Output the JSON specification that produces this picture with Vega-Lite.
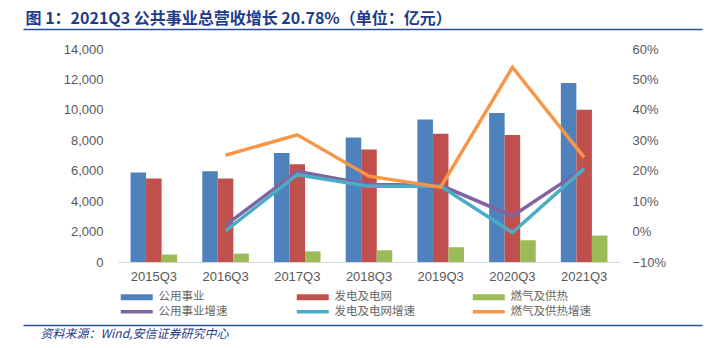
{
  "$schema": "https://vega.github.io/schema/vega-lite/v6.json",
  "width": 502,
  "height": 213,
  "autosize": {"type": "none"},
  "padding": {"left": 118, "top": 49, "right": 99, "bottom": 86},
  "background": "white",
  "config": {"view": {"stroke": null}, "font": "Liberation Sans"},
  "datasets": {
    "revenue": [
      {"period": "2015Q3", "series": "公用事业", "value": 5880},
      {"period": "2015Q3", "series": "发电及电网", "value": 5490},
      {"period": "2015Q3", "series": "燃气及供热", "value": 490},
      {"period": "2016Q3", "series": "公用事业", "value": 5970},
      {"period": "2016Q3", "series": "发电及电网", "value": 5490},
      {"period": "2016Q3", "series": "燃气及供热", "value": 550},
      {"period": "2017Q3", "series": "公用事业", "value": 7160},
      {"period": "2017Q3", "series": "发电及电网", "value": 6430},
      {"period": "2017Q3", "series": "燃气及供热", "value": 700},
      {"period": "2018Q3", "series": "公用事业", "value": 8190},
      {"period": "2018Q3", "series": "发电及电网", "value": 7400},
      {"period": "2018Q3", "series": "燃气及供热", "value": 770},
      {"period": "2019Q3", "series": "公用事业", "value": 9370},
      {"period": "2019Q3", "series": "发电及电网", "value": 8430},
      {"period": "2019Q3", "series": "燃气及供热", "value": 970},
      {"period": "2020Q3", "series": "公用事业", "value": 9790},
      {"period": "2020Q3", "series": "发电及电网", "value": 8340},
      {"period": "2020Q3", "series": "燃气及供热", "value": 1430},
      {"period": "2021Q3", "series": "公用事业", "value": 11760},
      {"period": "2021Q3", "series": "发电及电网", "value": 10000},
      {"period": "2021Q3", "series": "燃气及供热", "value": 1740}
    ],
    "growth": [
      {"period": "2016Q3", "series": "公用事业增速", "rate": 0.021},
      {"period": "2017Q3", "series": "公用事业增速", "rate": 0.198},
      {"period": "2018Q3", "series": "公用事业增速", "rate": 0.155},
      {"period": "2019Q3", "series": "公用事业增速", "rate": 0.152},
      {"period": "2020Q3", "series": "公用事业增速", "rate": 0.051},
      {"period": "2021Q3", "series": "公用事业增速", "rate": 0.2078},
      {"period": "2016Q3", "series": "发电及电网增速", "rate": 0.002},
      {"period": "2017Q3", "series": "发电及电网增速", "rate": 0.187},
      {"period": "2018Q3", "series": "发电及电网增速", "rate": 0.149},
      {"period": "2019Q3", "series": "发电及电网增速", "rate": 0.149},
      {"period": "2020Q3", "series": "发电及电网增速", "rate": -0.003},
      {"period": "2021Q3", "series": "发电及电网增速", "rate": 0.207},
      {"period": "2016Q3", "series": "燃气及供热增速", "rate": 0.251},
      {"period": "2017Q3", "series": "燃气及供热增速", "rate": 0.318},
      {"period": "2018Q3", "series": "燃气及供热增速", "rate": 0.182},
      {"period": "2019Q3", "series": "燃气及供热增速", "rate": 0.146},
      {"period": "2020Q3", "series": "燃气及供热增速", "rate": 0.54},
      {"period": "2021Q3", "series": "燃气及供热增速", "rate": 0.244}
    ]
  },
  "layer": [
    {
      "layer": [
        {
          "data": {"name": "revenue"},
          "mark": {"type": "bar"},
          "encoding": {
            "x": {
              "field": "period", "type": "nominal",
              "scale": {"paddingInner": 0.35, "paddingOuter": 0.175},
              "axis": {"title": null, "domainColor": "#D9D9D9", "domainWidth": 1, "ticks": false, "labelColor": "#595959", "labelFontSize": 13, "labelPadding": 8, "labelAngle": 0}
            },
            "xOffset": {
              "field": "series", "type": "nominal",
              "scale": {"domain": ["公用事业", "发电及电网", "燃气及供热"], "paddingInner": 0}
            },
            "y": {
              "field": "value", "type": "quantitative",
              "scale": {"domain": [0, 14000], "nice": false},
              "axis": {"title": null, "domain": false, "ticks": false, "grid": false, "values": [0, 2000, 4000, 6000, 8000, 10000, 12000, 14000], "format": ",.0f", "labelPadding": 15, "labelColor": "#595959", "labelFontSize": 13}
            },
            "color": {
              "field": "series", "type": "nominal",
              "scale": {
                "domain": ["公用事业", "发电及电网", "燃气及供热", "公用事业增速", "发电及电网增速", "燃气及供热增速"],
                "range": ["#4F81BD", "#C0504D", "#9BBB59", "#8064A2", "#4BACC6", "#F79646"]
              },
              "legend": {
                "title": null, "orient": "none", "legendX": 13, "legendY": 242,
                "columns": 3, "direction": "horizontal", "gridAlign": "all",
                "columnPadding": 57, "rowPadding": 2, "padding": 0,
                "symbolType": "M-3.2,-0.6H3.2V0.6H-3.2Z", "symbolSize": 100, "symbolStrokeWidth": 0,
                "labelFont": "Noto Sans CJK SC", "labelFontSize": 11.5, "labelColor": "#666666", "labelOffset": 16, "labelLimit": 200,
                "encode": {
                  "symbols": {
                    "update": {
                      "shape": {"signal": "indexof(datum.value, '增速') >= 0 ? 'M-3.2,-0.35H3.2V0.35H-3.2Z' : 'M-3.2,-0.6H3.2V0.6H-3.2Z'"},
                      "fill": {"scale": "color", "field": "value"},
                      "strokeWidth": {"value": 0}
                    }
                  }
                }
              }
            }
          }
        },
        {
          "data": {"name": "growth"},
          "mark": {"type": "line", "strokeWidth": 3.5},
          "encoding": {
            "x": {"field": "period", "type": "nominal"},
            "y": {
              "field": "rate", "type": "quantitative",
              "scale": {"domain": [-0.1, 0.6], "nice": false},
              "axis": {"orient": "right", "title": null, "domain": false, "ticks": false, "grid": false, "values": [-0.1, 0, 0.1, 0.2, 0.3, 0.4, 0.5, 0.6], "format": ".0%", "labelPadding": 12, "labelColor": "#595959", "labelFontSize": 13}
            },
            "color": {"field": "series", "type": "nominal"}
          }
        }
      ],
      "resolve": {"scale": {"y": "independent"}}
    },
    {
      "data": {"name": "revenue"},
      "mark": {"type": "point", "opacity": 0, "size": 0},
      "encoding": {
        "x": {
          "field": "period", "type": "nominal",
          "scale": {"type": "point", "range": [-95, 584]},
          "axis": {
            "orient": "top", "offset": 20, "labels": false, "ticks": false, "grid": false,
            "domainColor": "#2B4C9B", "domainWidth": 1.5,
            "title": "图 1：2021Q3 公共事业总营收增长 20.78%（单位：亿元）",
            "titleFont": "Noto Sans CJK SC", "titleFontSize": 16, "titleFontWeight": "bold", "titleColor": "#1F3C88",
            "titleAlign": "left", "titleX": -93, "titlePadding": 3
          }
        }
      }
    },
    {
      "data": {"name": "revenue"},
      "mark": {"type": "point", "opacity": 0, "size": 0},
      "encoding": {
        "x": {
          "field": "period", "type": "nominal",
          "scale": {"type": "point", "range": [-95, 584]},
          "axis": {
            "orient": "bottom", "offset": 63, "labels": false, "ticks": false, "grid": false,
            "domainColor": "#2B4C9B", "domainWidth": 1.5,
            "title": "资料来源：Wind,安信证券研究中心",
            "titleFont": "Noto Sans CJK SC", "titleFontSize": 12, "titleFontWeight": "normal", "titleFontStyle": "italic", "titleColor": "#1F3C88",
            "titleAlign": "left", "titleX": -78, "titlePadding": 3
          }
        }
      }
    }
  ],
  "resolve": {"scale": {"x": "independent", "y": "independent"}}
}
